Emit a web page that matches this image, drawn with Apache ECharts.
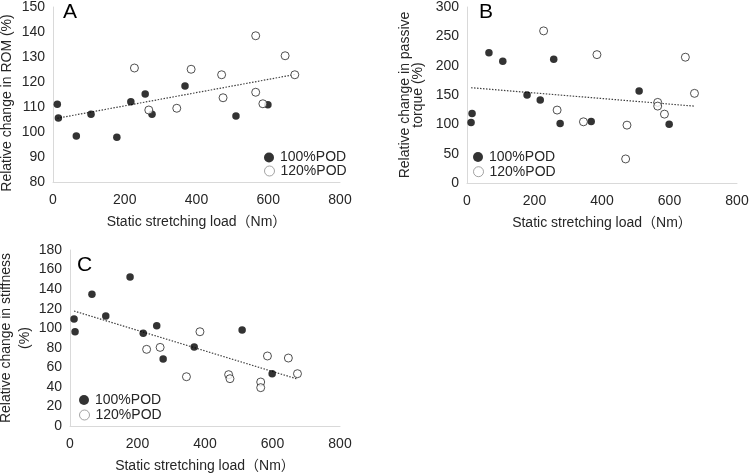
<!DOCTYPE html>
<html lang="en">

<head>
    <meta charset="UTF-8">
    <title>Static stretching load</title>
    <style>
        body {
            margin: 0;
            background: #fff;
        }

        #chartmain {
            width: 751px;
            height: 474px;
        }
    </style>
</head>

<body>
    <div id="chartmain"></div>
    <script src="https://cdn.jsdelivr.net/npm/echarts@6/dist/echarts.min.js"></script>
    <script type="text/javascript">
        // loads (Nm) shared by the three panels
        var load100 = [12, 15, 65, 106, 178, 217, 257, 276, 368, 510, 599]
        var load120 = [227, 267, 345, 385, 470, 474, 565, 565, 585, 647, 674]

        // A: ROM
        var romA100 = [111.1, 105.6, 98.4, 107.1, 97.9, 112.1, 115.2, 107.1, 118.4, 106.4, 110.9]
        var romA120 = [125.6, 108.8, 109.5, 125.1, 122.9, 113.7, 138.5, 115.9, 111.3, 130.5, 122.9]
        // B: passive torque
        var torqueB100 = [103.2, 118.6, 222.2, 207.5, 149.9, 141.4, 210.9, 101.5, 105, 156.8, 100.3]
        var torqueB120 = [259.3, 124.3, 104.3, 218.8, 41, 98.6, 137.4, 131.1, 117.4, 214.4, 152.8]
        // C: stiffness
        var stiffC100 = [109.4, 96.4, 134.7, 112.5, 152.4, 94.8, 102.6, 68.5, 80.8, 98.2, 53.5]
        var stiffC120 = [78.4, 80.4, 50.4, 96.4, 52.5, 48.4, 45, 39.2, 71.6, 69.5, 53.5]

        // dotted trend lines, end points
        var trendX = [12, 674]
        var trendA = [105.5, 123]
        var trendB = [162.4, 131]
        var trendC = [117.6, 48]

        var xTicks = [0, 200, 400, 600, 800]

        var font = "'Liberation Sans', Arial, 'Noto Sans CJK JP', sans-serif"
        var xName = 'Static stretching load（Nm）'

        var pairs = (xs, ys) => xs.map((x, i) => [x, ys[i]])

        var xAxis = (idx) => ({
            gridIndex: idx,
            type: 'value',
            min: xTicks[0],
            max: xTicks[xTicks.length - 1],
            interval: 200,
            name: xName,
            nameLocation: 'middle',
            nameGap: 33,
            nameTextStyle: { fontFamily: font, fontSize: 14, color: '#262626' },
            axisLine: { show: true, lineStyle: { color: '#d9d9d9', width: 1 } },
            axisTick: { show: false },
            splitLine: { show: false },
            axisLabel: { fontFamily: font, fontSize: 14, color: '#262626', margin: 11 }
        })

        var yAxis = (idx, min, max, step, name, gap, lh) => ({
            gridIndex: idx,
            type: 'value',
            min: min,
            max: max,
            interval: step,
            name: name,
            nameLocation: 'middle',
            nameGap: gap,
            nameTextStyle: {
                fontFamily: font, fontSize: 14, color: '#262626',
                lineHeight: lh, align: 'center'
            },
            axisLine: { show: true, lineStyle: { color: '#d9d9d9', width: 1 } },
            axisTick: { show: false },
            splitLine: { show: false },
            axisLabel: { fontFamily: font, fontSize: 14, color: '#262626', margin: 8 }
        })

        var filled = (idx, xs, ys) => ({
            name: '100%POD',
            type: 'scatter',
            xAxisIndex: idx,
            yAxisIndex: idx,
            symbolSize: 7.5,
            itemStyle: { color: '#000' },
            data: pairs(xs, ys),
            z: 3
        })

        var open = (idx, xs, ys) => ({
            name: '120%POD',
            type: 'scatter',
            xAxisIndex: idx,
            yAxisIndex: idx,
            symbolSize: 8,
            itemStyle: { color: '#fff', borderColor: '#262626', borderWidth: 1 },
            data: pairs(xs, ys),
            z: 3
        })

        var trend = (idx, ys) => ({
            name: 'trend',
            type: 'line',
            xAxisIndex: idx,
            yAxisIndex: idx,
            symbol: 'none',
            silent: true,
            lineStyle: { color: '#404040', width: 1.2, type: [1.5, 1.5] },
            data: pairs(trendX, ys),
            z: 2
        })

        // one legend per entry so the rows sit exactly where the picture has them
        var legendItem = (left, top, item) => ({
            left: left,
            top: top,
            itemWidth: 10,
            itemHeight: 10,
            icon: 'circle',
            padding: 0,
            textStyle: { fontFamily: font, fontSize: 14, color: '#262626', padding: [0, 0, 0, 1] },
            data: [item]
        })
        var item100 = { name: '100%POD' }
        var item120 = { name: '120%POD', itemStyle: { borderColor: '#8c8c8c', borderWidth: 1 } }

        var letter = (x, y, t) => ({
            type: 'text',
            left: x,
            top: y,
            style: { text: t, fontFamily: font, fontSize: 21, fill: '#000' }
        })

        var grid = (l, t, w, h) => ({
            left: l, top: t, width: w, height: h, outerBoundsMode: 'none', containLabel: false
        })

        var mychart = echarts.init(document.getElementById('chartmain'))
        var option = {
            animation: false,
            backgroundColor: '#fff',
            grid: [
                grid(53, 7, 287, 175),
                grid(467, 7, 270, 176),
                grid(70, 250, 270, 176)
            ],
            xAxis: [xAxis(0), xAxis(1), xAxis(2)],
            yAxis: [
                yAxis(0, 80, 150, 10, '', 40, 16),
                yAxis(1, 0, 300, 50, 'Relative change in passive\ntorque (%)', 42, 13),
                yAxis(2, 0, 180, 20, 'Relative change in stiffness\n(%)', 32, 19)
            ],
            legend: [
                legendItem(264, 150.5, item100),
                legendItem(264, 164, item120),
                legendItem(473, 150, item100),
                legendItem(473, 164.7, item120),
                legendItem(79, 393, item100),
                legendItem(79, 408, item120)
            ],
            graphic: [
                letter(63, 2, 'A'),
                letter(479, 2, 'B'),
                letter(77, 255, 'C'),
                {
                    // panel A y title sits a little below the axis middle
                    type: 'text',
                    x: 7,
                    y: 103,
                    rotation: Math.PI / 2,
                    style: {
                        text: 'Relative change in ROM (%)',
                        fontFamily: font, fontSize: 14, fill: '#262626',
                        align: 'center', verticalAlign: 'middle'
                    }
                }
            ],
            series: [
                trend(0, trendA), filled(0, load100, romA100), open(0, load120, romA120),
                trend(1, trendB), filled(1, load100, torqueB100), open(1, load120, torqueB120),
                trend(2, trendC), filled(2, load100, stiffC100), open(2, load120, stiffC120)
            ]
        }
        mychart.setOption(option, true)
    </script>
</body>

</html>
